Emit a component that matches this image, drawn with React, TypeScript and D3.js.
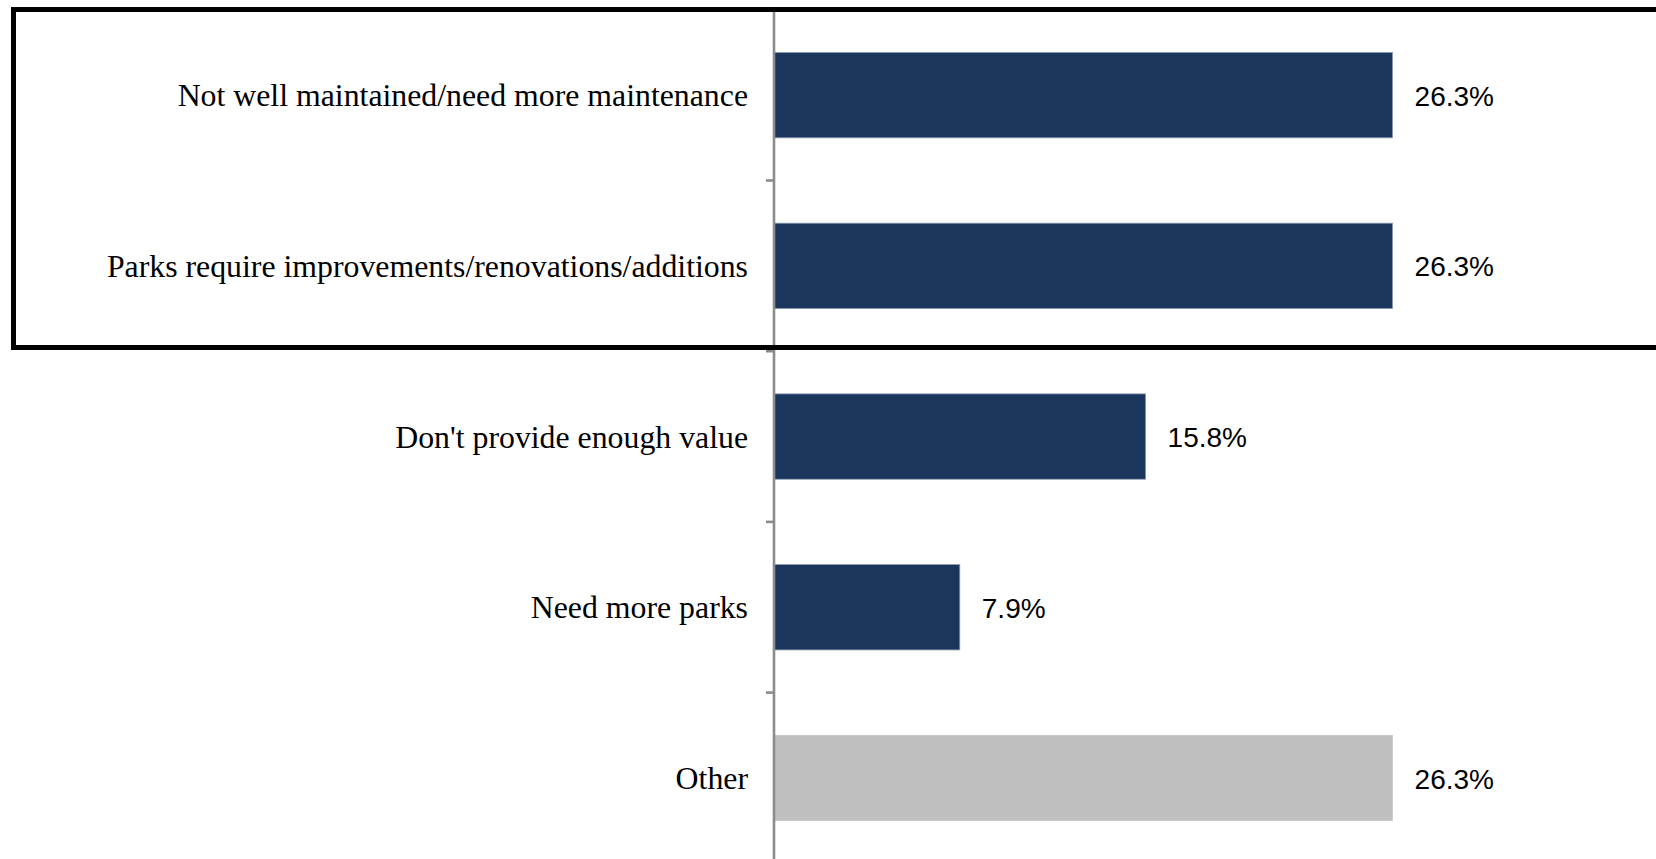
import React from "react";
import * as d3 from "d3";

const categories: string[] = [
  "Not well maintained/need more maintenance",
  "Parks require improvements/renovations/additions",
  "Don't provide enough value",
  "Need more parks",
  "Other",
];
const values: number[] = [0.263, 0.263, 0.158, 0.079, 0.263];
const barColors: string[] = ["#1B365D", "#1B365D", "#1B365D", "#1B365D", "#BFBFBF"];
const valueLabels: string[] = ["26.3%", "26.3%", "15.8%", "7.9%", "26.3%"];

const W = 1656;
const H = 859;

export default function App() {
  const y = d3.scaleBand<string>().domain(categories).range([9.8, 863.3]).paddingInner(0.5).paddingOuter(0.25);
  const x = d3.scaleLinear().domain([0, 0.3]).range([774, 774 + 0.3 * 2352]);
  const step = y.step();
  const tickYs = categories.slice(1).map((c) => (y(c) as number) - (step * y.paddingInner()) / 2);
  const x0 = x(0);

  return (
    <svg
      width={W}
      height={H}
      style={{ position: "absolute", left: 0, top: 0, background: "#fff" }}
    >
      <rect x={0} y={0} width={W} height={H} fill="#fff" />
      {categories.map((c, i) => (
        <rect
          key={"b" + i}
          x={x0}
          y={y(c)}
          width={x(values[i]) - x0}
          height={y.bandwidth()}
          fill={barColors[i]}
          stroke={i < 4 ? "#8a9bb3" : "#c8c8c8"}
          strokeWidth={0.8}
        />
      ))}
      {categories.map((c, i) => (
        <text
          key={"l" + i}
          x={748}
          y={(y(c) as number) + y.bandwidth() / 2}
          dy="0.35em"
          textAnchor="end"
          fontFamily="'Liberation Serif', 'Times New Roman', serif"
          fontSize={31.8}
          fill="#000"
        >
          {c}
        </text>
      ))}
      {categories.map((c, i) => (
        <text
          key={"v" + i}
          x={x(values[i]) + 22}
          y={(y(c) as number) + y.bandwidth() / 2}
          dy="0.38em"
          textAnchor="start"
          fontFamily="'Liberation Sans', Arial, sans-serif"
          fontSize={28}
          fill="#000"
        >
          {valueLabels[i]}
        </text>
      ))}
      <line x1={774} x2={774} y1={9.8} y2={H + 5} stroke="#8c8c8c" strokeWidth={2.6} />
      {tickYs.map((ty, i) => (
        <line key={"t" + i} x1={766} x2={774} y1={ty} y2={ty} stroke="#8c8c8c" strokeWidth={2.6} />
      ))}
      <rect x={13.5} y={9.5} width={W + 20} height={338} fill="none" stroke="#000" strokeWidth={5} />
    </svg>
  );
}
